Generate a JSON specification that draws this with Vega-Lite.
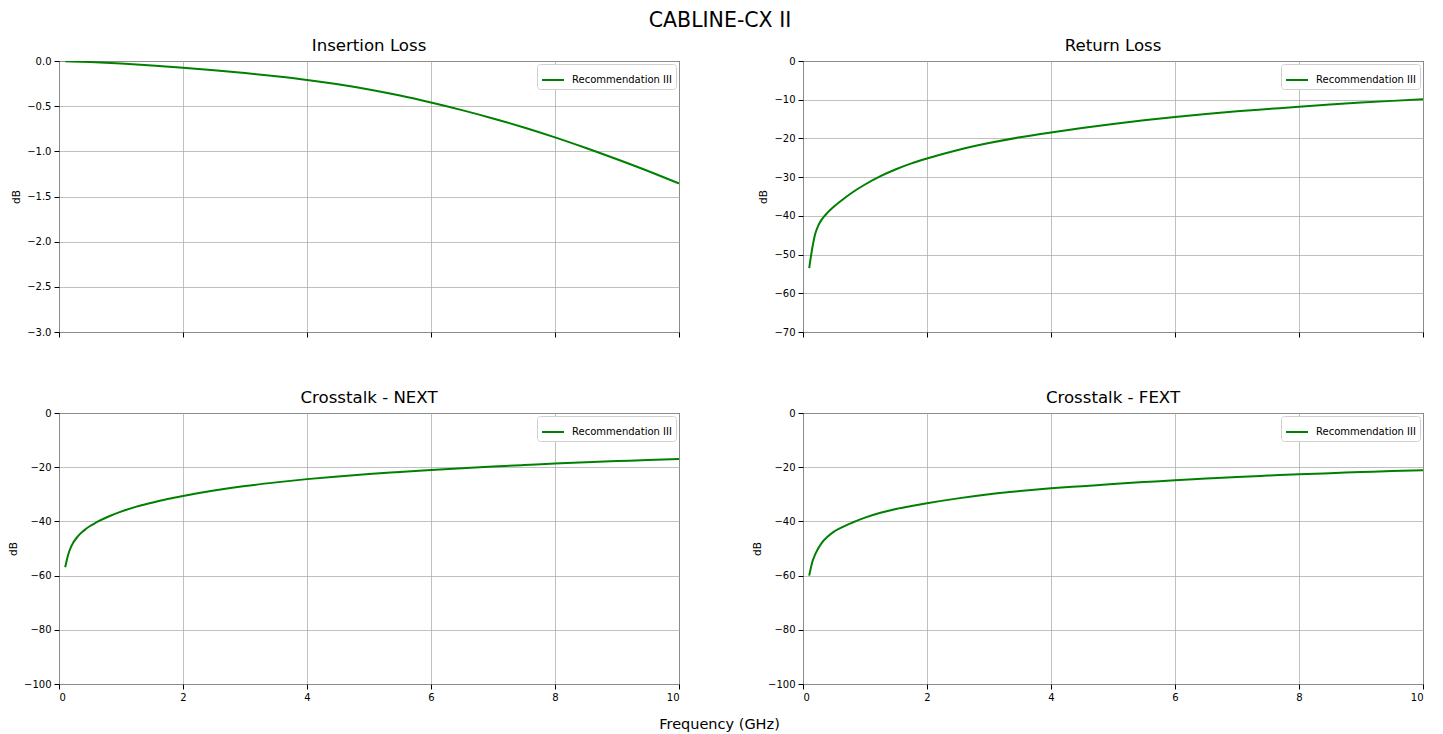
{
  "$schema": "https://vega.github.io/schema/vega-lite/v6.json",
  "padding": {"left": 8, "top": 11, "right": 3, "bottom": 5},
  "title": {"text": "CABLINE-CX II", "fontSize": 20.5, "fontWeight": "normal", "anchor": "middle", "frame": "bounds", "offset": 6, "dx": 4, "color": "#000"},
  "datasets": {
    "il": [
      {"f": 0.1, "dB": -0.002, "series": "Recommendation III"},
      {"f": 0.5, "dB": -0.012, "series": "Recommendation III"},
      {"f": 1.0, "dB": -0.028, "series": "Recommendation III"},
      {"f": 1.5, "dB": -0.049, "series": "Recommendation III"},
      {"f": 2.0, "dB": -0.074, "series": "Recommendation III"},
      {"f": 2.5, "dB": -0.102, "series": "Recommendation III"},
      {"f": 3.0, "dB": -0.134, "series": "Recommendation III"},
      {"f": 3.5, "dB": -0.17, "series": "Recommendation III"},
      {"f": 4.0, "dB": -0.21, "series": "Recommendation III"},
      {"f": 4.5, "dB": -0.258, "series": "Recommendation III"},
      {"f": 5.0, "dB": -0.316, "series": "Recommendation III"},
      {"f": 5.5, "dB": -0.383, "series": "Recommendation III"},
      {"f": 6.0, "dB": -0.46, "series": "Recommendation III"},
      {"f": 6.5, "dB": -0.544, "series": "Recommendation III"},
      {"f": 7.0, "dB": -0.636, "series": "Recommendation III"},
      {"f": 7.5, "dB": -0.736, "series": "Recommendation III"},
      {"f": 8.0, "dB": -0.845, "series": "Recommendation III"},
      {"f": 8.5, "dB": -0.963, "series": "Recommendation III"},
      {"f": 9.0, "dB": -1.088, "series": "Recommendation III"},
      {"f": 9.5, "dB": -1.218, "series": "Recommendation III"},
      {"f": 10.0, "dB": -1.355, "series": "Recommendation III"}
    ],
    "rl": [
      {"f": 0.1, "dB": -53.5, "series": "Recommendation III"},
      {"f": 0.15, "dB": -48.3, "series": "Recommendation III"},
      {"f": 0.2, "dB": -44.5, "series": "Recommendation III"},
      {"f": 0.25, "dB": -42.4, "series": "Recommendation III"},
      {"f": 0.3, "dB": -41.0, "series": "Recommendation III"},
      {"f": 0.4, "dB": -39.1, "series": "Recommendation III"},
      {"f": 0.5, "dB": -37.6, "series": "Recommendation III"},
      {"f": 0.6, "dB": -36.3, "series": "Recommendation III"},
      {"f": 0.8, "dB": -33.9, "series": "Recommendation III"},
      {"f": 1.0, "dB": -31.9, "series": "Recommendation III"},
      {"f": 1.25, "dB": -29.75, "series": "Recommendation III"},
      {"f": 1.5, "dB": -27.95, "series": "Recommendation III"},
      {"f": 1.75, "dB": -26.45, "series": "Recommendation III"},
      {"f": 2.0, "dB": -25.2, "series": "Recommendation III"},
      {"f": 2.5, "dB": -23.0, "series": "Recommendation III"},
      {"f": 3.0, "dB": -21.2, "series": "Recommendation III"},
      {"f": 3.5, "dB": -19.7, "series": "Recommendation III"},
      {"f": 4.0, "dB": -18.45, "series": "Recommendation III"},
      {"f": 4.5, "dB": -17.3, "series": "Recommendation III"},
      {"f": 5.0, "dB": -16.25, "series": "Recommendation III"},
      {"f": 5.5, "dB": -15.3, "series": "Recommendation III"},
      {"f": 6.0, "dB": -14.45, "series": "Recommendation III"},
      {"f": 6.5, "dB": -13.7, "series": "Recommendation III"},
      {"f": 7.0, "dB": -13.0, "series": "Recommendation III"},
      {"f": 7.5, "dB": -12.4, "series": "Recommendation III"},
      {"f": 8.0, "dB": -11.8, "series": "Recommendation III"},
      {"f": 8.5, "dB": -11.25, "series": "Recommendation III"},
      {"f": 9.0, "dB": -10.75, "series": "Recommendation III"},
      {"f": 9.5, "dB": -10.3, "series": "Recommendation III"},
      {"f": 10.0, "dB": -9.9, "series": "Recommendation III"}
    ],
    "next": [
      {"f": 0.1, "dB": -56.9, "series": "Recommendation III"},
      {"f": 0.15, "dB": -52.1, "series": "Recommendation III"},
      {"f": 0.2, "dB": -49.1, "series": "Recommendation III"},
      {"f": 0.3, "dB": -45.6, "series": "Recommendation III"},
      {"f": 0.4, "dB": -43.4, "series": "Recommendation III"},
      {"f": 0.5, "dB": -41.7, "series": "Recommendation III"},
      {"f": 0.6, "dB": -40.4, "series": "Recommendation III"},
      {"f": 0.8, "dB": -38.2, "series": "Recommendation III"},
      {"f": 1.0, "dB": -36.4, "series": "Recommendation III"},
      {"f": 1.25, "dB": -34.55, "series": "Recommendation III"},
      {"f": 1.5, "dB": -33.1, "series": "Recommendation III"},
      {"f": 1.75, "dB": -31.75, "series": "Recommendation III"},
      {"f": 2.0, "dB": -30.6, "series": "Recommendation III"},
      {"f": 2.5, "dB": -28.6, "series": "Recommendation III"},
      {"f": 3.0, "dB": -26.95, "series": "Recommendation III"},
      {"f": 3.5, "dB": -25.6, "series": "Recommendation III"},
      {"f": 4.0, "dB": -24.4, "series": "Recommendation III"},
      {"f": 4.5, "dB": -23.4, "series": "Recommendation III"},
      {"f": 5.0, "dB": -22.5, "series": "Recommendation III"},
      {"f": 5.5, "dB": -21.75, "series": "Recommendation III"},
      {"f": 6.0, "dB": -21.0, "series": "Recommendation III"},
      {"f": 6.5, "dB": -20.35, "series": "Recommendation III"},
      {"f": 7.0, "dB": -19.75, "series": "Recommendation III"},
      {"f": 7.5, "dB": -19.2, "series": "Recommendation III"},
      {"f": 8.0, "dB": -18.65, "series": "Recommendation III"},
      {"f": 8.5, "dB": -18.15, "series": "Recommendation III"},
      {"f": 9.0, "dB": -17.75, "series": "Recommendation III"},
      {"f": 9.5, "dB": -17.35, "series": "Recommendation III"},
      {"f": 10.0, "dB": -17.0, "series": "Recommendation III"}
    ],
    "fext": [
      {"f": 0.1, "dB": -60.0, "series": "Recommendation III"},
      {"f": 0.15, "dB": -55.0, "series": "Recommendation III"},
      {"f": 0.2, "dB": -52.0, "series": "Recommendation III"},
      {"f": 0.3, "dB": -48.0, "series": "Recommendation III"},
      {"f": 0.4, "dB": -45.6, "series": "Recommendation III"},
      {"f": 0.5, "dB": -43.8, "series": "Recommendation III"},
      {"f": 0.6, "dB": -42.5, "series": "Recommendation III"},
      {"f": 0.8, "dB": -40.4, "series": "Recommendation III"},
      {"f": 1.0, "dB": -38.6, "series": "Recommendation III"},
      {"f": 1.25, "dB": -36.8, "series": "Recommendation III"},
      {"f": 1.5, "dB": -35.4, "series": "Recommendation III"},
      {"f": 1.75, "dB": -34.3, "series": "Recommendation III"},
      {"f": 2.0, "dB": -33.3, "series": "Recommendation III"},
      {"f": 2.5, "dB": -31.5, "series": "Recommendation III"},
      {"f": 3.0, "dB": -30.0, "series": "Recommendation III"},
      {"f": 3.5, "dB": -28.8, "series": "Recommendation III"},
      {"f": 4.0, "dB": -27.8, "series": "Recommendation III"},
      {"f": 4.5, "dB": -27.0, "series": "Recommendation III"},
      {"f": 5.0, "dB": -26.2, "series": "Recommendation III"},
      {"f": 5.5, "dB": -25.5, "series": "Recommendation III"},
      {"f": 6.0, "dB": -24.8, "series": "Recommendation III"},
      {"f": 6.5, "dB": -24.2, "series": "Recommendation III"},
      {"f": 7.0, "dB": -23.6, "series": "Recommendation III"},
      {"f": 7.5, "dB": -23.1, "series": "Recommendation III"},
      {"f": 8.0, "dB": -22.6, "series": "Recommendation III"},
      {"f": 8.5, "dB": -22.2, "series": "Recommendation III"},
      {"f": 9.0, "dB": -21.8, "series": "Recommendation III"},
      {"f": 9.5, "dB": -21.4, "series": "Recommendation III"},
      {"f": 10.0, "dB": -21.1, "series": "Recommendation III"}
    ]
  },
  "columns": 2,
  "spacing": {"row": 81, "column": 124},
  "bounds": "flush",
  "resolve": {"scale": {"color": "independent", "x": "independent", "y": "independent"}, "legend": {"color": "independent"}},
  "concat": [
    {
      "width": 620, "height": 271,
      "title": "Insertion Loss",
      "data": {"name": "il"},
      "mark": {"type": "line", "interpolate": "monotone", "strokeWidth": 2, "clip": true},
      "encoding": {
        "x": {"field": "f", "type": "quantitative", "scale": {"domain": [0, 10], "nice": false, "zero": false},
              "axis": {"values": [0, 2, 4, 6, 8, 10], "labels": false, "title": null}},
        "y": {"field": "dB", "type": "quantitative", "scale": {"domain": [-3, 0], "nice": false},
              "axis": {"values": [0, -0.5, -1, -1.5, -2, -2.5, -3], "format": ".1f", "title": "dB"}},
        "color": {"field": "series", "type": "nominal", "scale": {"range": ["#008000"]}, "legend": {"title": null}}
      }
    },
    {
      "width": 620, "height": 271,
      "title": "Return Loss",
      "data": {"name": "rl"},
      "mark": {"type": "line", "interpolate": "monotone", "strokeWidth": 2, "clip": true},
      "encoding": {
        "x": {"field": "f", "type": "quantitative", "scale": {"domain": [0, 10], "nice": false, "zero": false},
              "axis": {"values": [0, 2, 4, 6, 8, 10], "labels": false, "title": null}},
        "y": {"field": "dB", "type": "quantitative", "scale": {"domain": [-70, 0], "nice": false},
              "axis": {"values": [0, -10, -20, -30, -40, -50, -60, -70], "format": "d", "title": "dB"}},
        "color": {"field": "series", "type": "nominal", "scale": {"range": ["#008000"]}, "legend": {"title": null}}
      }
    },
    {
      "width": 620, "height": 271,
      "title": "Crosstalk - NEXT",
      "data": {"name": "next"},
      "mark": {"type": "line", "interpolate": "monotone", "strokeWidth": 2, "clip": true},
      "encoding": {
        "x": {"field": "f", "type": "quantitative", "scale": {"domain": [0, 10], "nice": false, "zero": false},
              "axis": {"values": [0, 2, 4, 6, 8, 10], "format": "d", "title": "Frequency (GHz)", "titleX": 660, "titleY": 44, "titleBaseline": "alphabetic", "titleFontSize": 14.5}},
        "y": {"field": "dB", "type": "quantitative", "scale": {"domain": [-100, 0], "nice": false},
              "axis": {"values": [0, -20, -40, -60, -80, -100], "format": "d", "title": "dB"}},
        "color": {"field": "series", "type": "nominal", "scale": {"range": ["#008000"]}, "legend": {"title": null}}
      }
    },
    {
      "width": 620, "height": 271,
      "title": "Crosstalk - FEXT",
      "data": {"name": "fext"},
      "mark": {"type": "line", "interpolate": "monotone", "strokeWidth": 2, "clip": true},
      "encoding": {
        "x": {"field": "f", "type": "quantitative", "scale": {"domain": [0, 10], "nice": false, "zero": false},
              "axis": {"values": [0, 2, 4, 6, 8, 10], "format": "d", "title": null}},
        "y": {"field": "dB", "type": "quantitative", "scale": {"domain": [-100, 0], "nice": false},
              "axis": {"values": [0, -20, -40, -60, -80, -100], "format": "d", "title": "dB"}},
        "color": {"field": "series", "type": "nominal", "scale": {"range": ["#008000"]}, "legend": {"title": null}}
      }
    }
  ],
  "config": {
    "font": "DejaVu Sans",
    "background": "white",
    "view": {"stroke": "#000", "strokeWidth": 1},
    "axis": {
      "domain": false,
      "grid": true,
      "gridColor": "#b0b0b0",
      "gridWidth": 0.8,
      "tickColor": "#000",
      "tickSize": 5,
      "tickWidth": 1,
      "labelFontSize": 10,
      "labelColor": "#000",
      "labelPadding": 3,
      "titleFontSize": 10.5,
      "titleFontWeight": "normal",
      "titleColor": "#000",
      "titlePadding": 5
    },
    "title": {"fontSize": 16.6, "fontWeight": "normal", "color": "#000", "offset": 1},
    "legend": {
      "orient": "top-right",
      "offset": 3,
      "padding": 4,
      "fillColor": "white",
      "strokeColor": "#d0d0d0",
      "cornerRadius": 3,
      "symbolType": "stroke",
      "symbolSize": 484,
      "symbolStrokeWidth": 2,
      "labelFontSize": 10,
      "labelColor": "#000",
      "labelOffset": 7
    }
  }
}
